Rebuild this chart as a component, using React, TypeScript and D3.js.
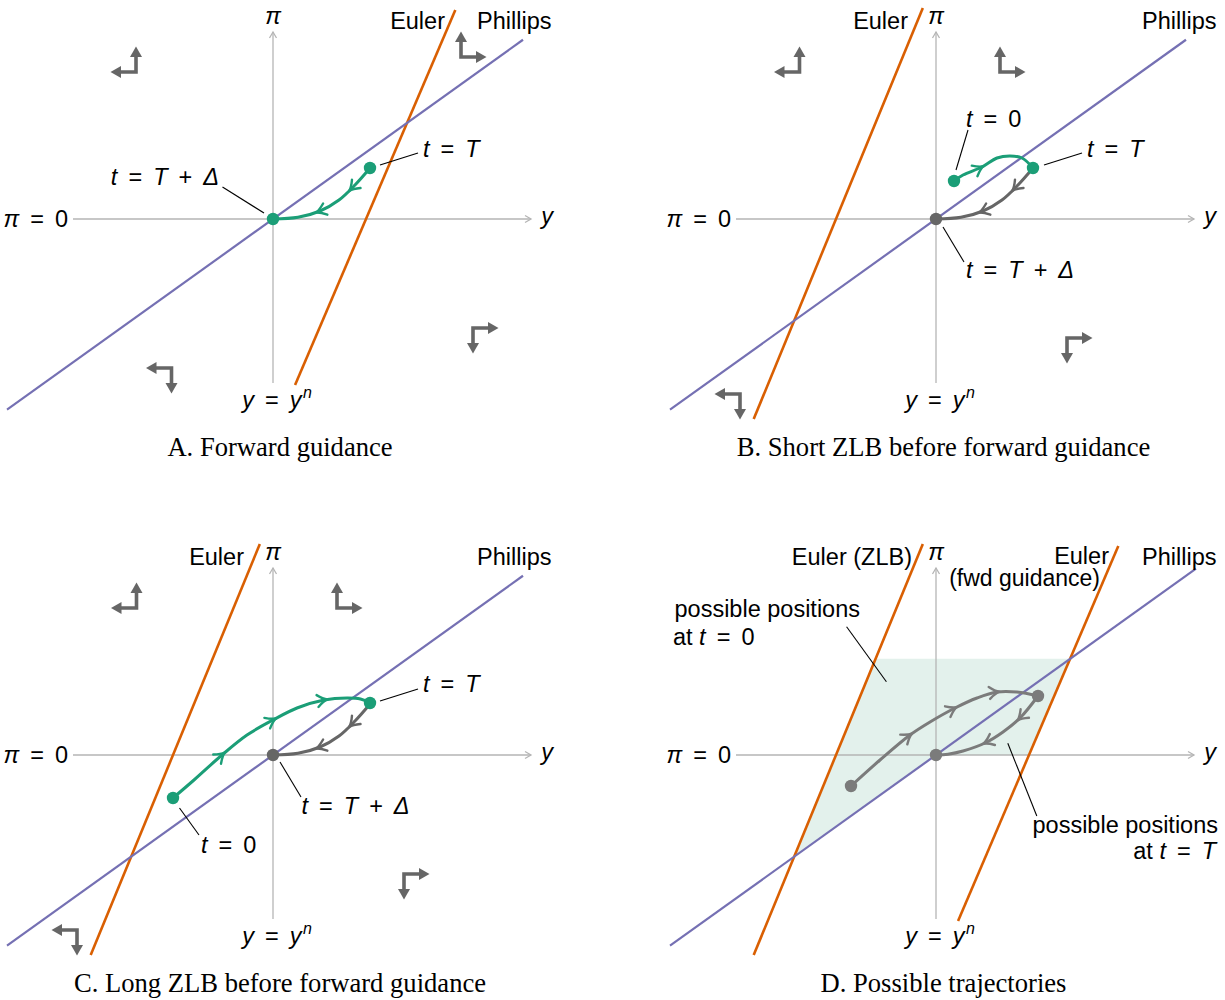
import React, { useEffect, useRef } from "react";
import * as d3 from "d3";

const WIDTH = 1225;
const HEIGHT = 1000;

type Pt = [number, number];

// Model curves in (y, π) space
const phillipsSlope = 0.717;
const eulerFwdIntercept = 0.93; // y where the forward-guidance Euler line crosses π = 0
const eulerFwdSlope = 2.34;
const eulerZlbIntercept = -1.0; // y where the ZLB Euler line crosses π = 0
const eulerZlbSlope = 2.43;

// Drawn extents of axes and curves
const yAxisRange = [-2.0, 2.58];
const piAxisRange = [-1.64, 1.87];
const phillipsRange = [-2.66, 2.5];
const phillipsRangeD = [-2.66, 2.6];
const eulerFwdPiRange = [-1.66, 2.09];
const eulerZlbPiRange = [-2.0, 2.11];

// Trajectories (y, π)
const returnPath: Pt[] = [[0.97, 0.51], [0.82, 0.34], [0.66, 0.19], [0.47, 0.08], [0.25, 0.017], [0, 0]];
const shortZlbPath: Pt[] = [[0.18, 0.38], [0.27, 0.44], [0.46, 0.52], [0.61, 0.61], [0.74, 0.63], [0.86, 0.61], [0.97, 0.51]];
const longZlbPath: Pt[] = [[-1.0, -0.43], [-0.79, -0.25], [-0.51, 0.0], [-0.26, 0.2], [0.0, 0.35], [0.24, 0.47], [0.51, 0.55], [0.74, 0.57], [0.875, 0.56], [0.97, 0.52]];
const possibleOutPath: Pt[] = [[-0.85, -0.31], [-0.56, -0.05], [-0.26, 0.2], [-0.06, 0.33], [0.19, 0.47], [0.41, 0.57], [0.61, 0.63], [0.81, 0.63], [1.02, 0.59]];
const possibleReturnPath: Pt[] = [[1.02, 0.59], [0.84, 0.37], [0.67, 0.23], [0.49, 0.12], [0.27, 0.04], [0.12, 0.008], [0, 0]];

// Where the direction marks sit along each trajectory (fraction of length)
const returnArrows = [0.27, 0.62];
const shortZlbArrows = [0.37];
const longZlbArrows = [0.3, 0.57, 0.81];
const possibleOutArrows = [0.37, 0.61, 0.82];
const possibleReturnArrows = [0.26, 0.6];

// Phase-diagram direction arrows: [y, π, horizontal dir, vertical dir]
const phaseArrowsA = [[-1.37, 1.47, -1, 1], [1.88, 1.62, 1, 1], [2.0, -1.09, 1, -1], [-1.015, -1.49, -1, -1]];
const phaseArrowsBC = [[-1.365, 1.47, -1, 1], [0.64, 1.47, 1, 1], [1.31, -1.19, 1, -1], [-1.96, -1.75, -1, -1]];

const captions = [
  "A. Forward guidance",
  "B. Short ZLB before forward guidance",
  "C. Long ZLB before forward guidance",
  "D. Possible trajectories",
];

const GREEN = "#1b9e77";
const GRAY = "#666666";
const GRAY_D = "#7b7b7b";
const PURPLE = "#7570b3";
const ORANGE = "#d95f02";
const AXIS = "#b5b5b5";
const SHADE = "#e3f1ec";
const SANS = "'Liberation Sans', Arial, Helvetica, sans-serif";
const SERIF = "'Liberation Serif', 'Times New Roman', serif";
const FS = 23.5;

export default function App() {
  const ref = useRef<SVGSVGElement>(null);

  useEffect(() => {
    const svg = d3.select(ref.current!);
    svg.selectAll("*").remove();

    const x = d3.scaleLinear().domain([-1, 1]).range([-100, 100]);
    const yv = d3.scaleLinear().domain([-1, 1]).range([100, -100]);

    const eulerY = (intercept: number, slope: number, pi: number) => intercept + pi / slope;

    const panel = (cx: number, cy: number) => svg.append("g").attr("transform", `translate(${cx},${cy})`);

    const straight = (g: any, pts: Pt[], color: string, w: number) =>
      g.append("line")
        .attr("x1", x(pts[0][0])).attr("y1", yv(pts[0][1]))
        .attr("x2", x(pts[1][0])).attr("y2", yv(pts[1][1]))
        .attr("stroke", color).attr("stroke-width", w);

    const axes = (g: any) => {
      const x0 = x(yAxisRange[0]);
      const x1 = x(yAxisRange[1]);
      const yb = yv(piAxisRange[0]);
      const yt = yv(piAxisRange[1]);
      const c = g.append("g").attr("stroke", AXIS).attr("stroke-width", 1.3).attr("fill", "none");
      c.append("line").attr("x1", x0).attr("x2", x1).attr("y1", yv(0)).attr("y2", yv(0));
      c.append("line").attr("x1", x(0)).attr("x2", x(0)).attr("y1", yb).attr("y2", yt);
      c.append("path").attr("d", `M${x1 - 6},${yv(0) - 3.5}L${x1},${yv(0)}L${x1 - 6},${yv(0) + 3.5}`);
      c.append("path").attr("d", `M${x(0) - 3.5},${yt + 6}L${x(0)},${yt}L${x(0) + 3.5},${yt + 6}`);
    };

    const phillips = (g: any, range: number[]) =>
      straight(g, [[range[0], range[0] * phillipsSlope], [range[1], range[1] * phillipsSlope]], PURPLE, 2.2);

    const euler = (g: any, intercept: number, slope: number, range: number[]) =>
      straight(g, [[eulerY(intercept, slope, range[0]), range[0]], [eulerY(intercept, slope, range[1]), range[1]]], ORANGE, 2.6);

    const trajectory = (g: any, pts: Pt[], color: string, fractions: number[]) => {
      const gen = d3.line<Pt>().x((d) => x(d[0])).y((d) => yv(d[1])).curve(d3.curveCatmullRom.alpha(0.5));
      const path = g.append("path").attr("d", gen(pts)).attr("fill", "none")
        .attr("stroke", color).attr("stroke-width", 3).attr("stroke-linecap", "round");
      const node = path.node() as SVGPathElement;
      const len = node.getTotalLength();
      fractions.forEach((f) => {
        const p = node.getPointAtLength(f * len);
        const q = node.getPointAtLength(Math.max(0, f * len - 2));
        const ang = (Math.atan2(p.y - q.y, p.x - q.x) * 180) / Math.PI;
        g.append("path")
          .attr("d", "M-10,-6 Q-4,-1 0,0 Q-4,1 -10,6")
          .attr("transform", `translate(${p.x},${p.y}) rotate(${ang})`)
          .attr("fill", "none").attr("stroke", color).attr("stroke-width", 2.4)
          .attr("stroke-linecap", "round").attr("stroke-linejoin", "round");
      });
    };

    const dot = (g: any, p: Pt, color: string) =>
      g.append("circle").attr("cx", x(p[0])).attr("cy", yv(p[1])).attr("r", 6.2).attr("fill", color);

    const leader = (g: any, x1: number, y1: number, x2: number, y2: number) =>
      g.append("line").attr("x1", x1).attr("y1", y1).attr("x2", x2).attr("y2", y2)
        .attr("stroke", "#000").attr("stroke-width", 1.1);

    const plain = (g: any, str: string, px: number, py: number, anchor: string, size = FS) =>
      g.append("text").attr("x", px).attr("y", py).attr("text-anchor", anchor)
        .attr("font-family", SANS).attr("font-size", size).attr("fill", "#000").text(str);

    // Math-style label: single letters italic, operators spaced out
    const math = (g: any, str: string, px: number, py: number, anchor: string) => {
      const t = g.append("text").attr("x", px).attr("y", py).attr("text-anchor", anchor)
        .attr("font-family", SANS).attr("font-size", FS).attr("fill", "#000");
      const toks = str.split(" ");
      toks.forEach((tok, i) => {
        const [base, sup] = tok.split("^");
        const isWord = base.length > 1 && /^[a-z]+$/.test(base);
        const prevWord = i > 0 && toks[i - 1].length > 1 && /^[a-z]+$/.test(toks[i - 1]);
        const italic = !isWord && /[A-Za-zπΔ]/.test(base);
        const ts = t.append("tspan").text(base);
        if (italic) ts.attr("font-style", "italic");
        if (i > 0) ts.attr("dx", isWord || prevWord ? 6.5 : 11);
        if (sup) {
          t.append("tspan").text(sup).attr("font-style", "italic")
            .attr("font-size", 16).attr("dy", -10).attr("dx", 1.5);
        }
      });
    };

    const phaseArrow = (g: any, a: number[]) => {
      const cx = x(a[0]);
      const cy = yv(a[1]);
      const hd = a[2];
      const vd = a[3];
      const L = 25.5, head = 10.5, hw = 6;
      const c = g.append("g");
      c.append("path")
        .attr("d", `M${cx + hd * (L - head + 1)},${cy}L${cx},${cy}L${cx},${cy - vd * (L - head + 1)}`)
        .attr("fill", "none").attr("stroke", GRAY).attr("stroke-width", 3.6).attr("stroke-linejoin", "miter");
      const hx = cx + hd * L;
      c.append("path")
        .attr("d", `M${hx},${cy}L${hx - hd * head},${cy - hw}L${hx - hd * head},${cy + hw}Z`)
        .attr("fill", GRAY);
      const vy = cy - vd * L;
      c.append("path")
        .attr("d", `M${cx},${vy}L${cx - hw},${vy + vd * head}L${cx + hw},${vy + vd * head}Z`)
        .attr("fill", GRAY);
    };

    const axisLabels = (g: any) => {
      math(g, "π", 0, -195, "middle");
      math(g, "y", 274, 5, "middle");
      math(g, "π = 0", -205, 8, "end");
      math(g, "y = y^n", 4, 189, "middle");
    };

    const caption = (cx: number, cy: number, str: string) =>
      svg.append("text").attr("x", cx).attr("y", cy).attr("text-anchor", "middle")
        .attr("font-family", SERIF).attr("font-size", 26.6).attr("fill", "#000").text(str);

    // ---------- A. Forward guidance ----------
    {
      const g = panel(273, 219);
      axes(g);
      euler(g, eulerFwdIntercept, eulerFwdSlope, eulerFwdPiRange);
      phillips(g, phillipsRange);
      trajectory(g, returnPath, GREEN, returnArrows);
      dot(g, returnPath[0], GREEN);
      dot(g, returnPath[returnPath.length - 1], GREEN);
      leader(g, 107, -54, 145, -66);
      leader(g, -50.5, -32, -9, -6);
      math(g, "t = T", 150, -62, "start");
      math(g, "t = T + Δ", -54, -34, "end");
      plain(g, "Euler", 172, -190, "end");
      plain(g, "Phillips", 204, -190, "start");
      axisLabels(g);
      phaseArrowsA.forEach((a) => phaseArrow(g, a));
    }

    // ---------- B. Short ZLB ----------
    {
      const g = panel(936, 219);
      axes(g);
      euler(g, eulerZlbIntercept, eulerZlbSlope, eulerZlbPiRange);
      phillips(g, phillipsRange);
      trajectory(g, shortZlbPath, GREEN, shortZlbArrows);
      trajectory(g, returnPath, GRAY, returnArrows);
      dot(g, shortZlbPath[0], GREEN);
      dot(g, returnPath[returnPath.length - 1], GRAY);
      dot(g, shortZlbPath[shortZlbPath.length - 1], GREEN);
      leader(g, 32, -89, 20, -49);
      leader(g, 108, -54, 146, -66);
      leader(g, 7, 8, 28, 43);
      math(g, "t = 0", 30, -92, "start");
      math(g, "t = T", 151, -62, "start");
      math(g, "t = T + Δ", 30, 59, "start");
      plain(g, "Euler", -28, -190, "end");
      plain(g, "Phillips", 206, -190, "start");
      axisLabels(g);
      phaseArrowsBC.forEach((a) => phaseArrow(g, a));
    }

    // ---------- C. Long ZLB ----------
    {
      const g = panel(273, 755);
      axes(g);
      euler(g, eulerZlbIntercept, eulerZlbSlope, eulerZlbPiRange);
      phillips(g, phillipsRange);
      trajectory(g, longZlbPath, GREEN, longZlbArrows);
      trajectory(g, returnPath, GRAY, returnArrows);
      dot(g, longZlbPath[0], GREEN);
      dot(g, returnPath[returnPath.length - 1], GRAY);
      dot(g, longZlbPath[longZlbPath.length - 1], GREEN);
      leader(g, -93.5, 53, -74, 80);
      leader(g, 7, 7, 28, 42);
      leader(g, 107, -54, 145, -66);
      math(g, "t = 0", -72, 98, "start");
      math(g, "t = T + Δ", 28.5, 59, "start");
      math(g, "t = T", 150, -63, "start");
      plain(g, "Euler", -29, -190, "end");
      plain(g, "Phillips", 204, -190, "start");
      axisLabels(g);
      phaseArrowsBC.forEach((a) => phaseArrow(g, a));
    }

    // ---------- D. Possible trajectories ----------
    {
      const g = panel(936, 755);
      // Region bounded by the two Euler lines, the Phillips curve and π = 0
      const yStar = (eulerFwdSlope * eulerFwdIntercept) / (eulerFwdSlope - phillipsSlope);
      const piStar = phillipsSlope * yStar;
      const yLow = (eulerZlbSlope * eulerZlbIntercept) / (eulerZlbSlope - phillipsSlope);
      const region: Pt[] = [
        [eulerY(eulerZlbIntercept, eulerZlbSlope, piStar), piStar],
        [yStar, piStar],
        [eulerFwdIntercept, 0],
        [0, 0],
        [yLow, phillipsSlope * yLow],
      ];
      g.append("path")
        .attr("d", d3.line<Pt>().x((d) => x(d[0])).y((d) => yv(d[1]))(region) + "Z")
        .attr("fill", SHADE);
      axes(g);
      euler(g, eulerZlbIntercept, eulerZlbSlope, eulerZlbPiRange);
      euler(g, eulerFwdIntercept, eulerFwdSlope, eulerFwdPiRange);
      phillips(g, phillipsRangeD);
      trajectory(g, possibleOutPath, GRAY_D, possibleOutArrows);
      trajectory(g, possibleReturnPath, GRAY_D, possibleReturnArrows);
      dot(g, possibleOutPath[0], GRAY_D);
      dot(g, possibleOutPath[possibleOutPath.length - 1], GRAY_D);
      dot(g, possibleReturnPath[possibleReturnPath.length - 1], GRAY_D);
      leader(g, -89.4, -128.3, -49.6, -73.3);
      leader(g, 71.8, -11.7, 100.8, 61);
      plain(g, "Euler (ZLB)", -24, -190, "end");
      plain(g, "Euler", 173, -191, "end");
      plain(g, "(fwd guidance)", 164, -169, "end", 23);
      plain(g, "Phillips", 206, -190, "start");
      plain(g, "possible positions", -261.5, -138, "start");
      math(g, "at t = 0", -263, -110, "start");
      plain(g, "possible positions", 282, 78, "end");
      math(g, "at t = T", 280, 104, "end");
      axisLabels(g);
    }

    caption(280, 456, captions[0]);
    caption(943.5, 456, captions[1]);
    caption(280, 992, captions[2]);
    caption(943.5, 992, captions[3]);
  }, []);

  return (
    <svg
      ref={ref}
      width={WIDTH}
      height={HEIGHT}
      style={{ position: "absolute", left: 0, top: 0, background: "#fff" }}
    />
  );
}
